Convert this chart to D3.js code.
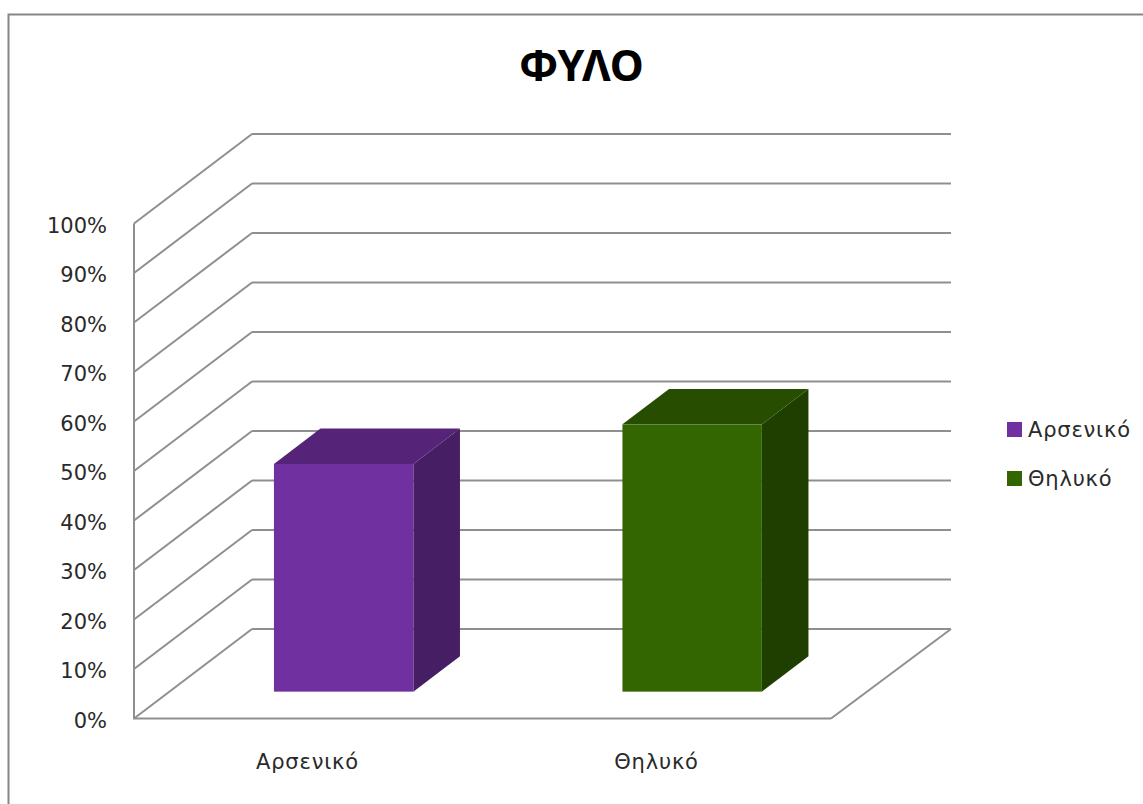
<!DOCTYPE html>
<html><head><meta charset="utf-8">
<script src="https://cdn.jsdelivr.net/npm/d3@7"></script>
<style>html,body{margin:0;padding:0;background:#fff}svg{display:block}text{font-family:"DejaVu Sans",sans-serif;fill:#2a2a2a}</style>
</head><body><div id="c"></div>
<script>
const titleText = "ΦΥΛΟ";
const categories = ["Αρσενικό", "Θηλυκό"];
const values = [46, 54];
const barColors = ["#7030a0", "#336600"];
const topColors = ["#552479", "#264d00"];
const sideColors = ["#451e63", "#1f3f00"];
const ticks = [0,10,20,30,40,50,60,70,80,90,100];

const W = 1143, H = 804;
const svg = d3.select("#c").append("svg").attr("width",W).attr("height",H);
const y = d3.scaleLinear().domain([0,100]).range([718.5,223.5]);
const x = d3.scaleBand().domain(categories).range([134,831]).paddingInner(0.6).paddingOuter(0.3);
const dx = 118, dy = -89.5;
const grid = "#8f8f8f";
const frontT = 0.3, depthT = 0.395;

// outer frame
svg.append("path").attr("d","M8.5,804V14.5H1143").attr("fill","none").attr("stroke","#868686").attr("stroke-width",2);

// title
svg.append("text").attr("x",581.5).attr("y",81).attr("text-anchor","middle")
  .attr("font-size",43).attr("font-weight","bold").style("font-family",'"Noto Sans",sans-serif').style("fill","#000").text(titleText);

// walls
const line = (a,b,c,d,w=2)=>svg.append("line").attr("x1",a).attr("y1",b).attr("x2",c).attr("y2",d)
  .attr("stroke",grid).attr("stroke-width",w);
ticks.forEach(t=>{
  const yy=y(t);
  line(134,yy,134+dx,yy+dy);
  line(134+dx,yy+dy,951,yy+dy);
});
line(134,y(0),134,y(100));
line(133,y(0),831,y(0));
line(831,y(0),951,y(0)+dy);

// tick labels
svg.append("g").selectAll("text").data(ticks).join("text")
  .attr("x",107).attr("y",t=>y(t)+9).attr("text-anchor","end").attr("font-size",21)
  .text(t=>t+"%");

// bars
categories.forEach((c,i)=>{
  const x0 = x(c)+dx*frontT, w = x.bandwidth();
  const yb = y(0)+dy*frontT, yt = yb-(y(0)-y(values[i]));
  const ox = dx*depthT, oy = dy*depthT;
  const g = svg.append("g");
  g.append("path").attr("fill",sideColors[i])
    .attr("d",d3.line()([[x0+w,yt],[x0+w+ox,yt+oy],[x0+w+ox,yb+oy],[x0+w,yb]]));
  g.append("path").attr("fill",topColors[i])
    .attr("d",d3.line()([[x0,yt],[x0+ox,yt+oy],[x0+w+ox,yt+oy],[x0+w,yt]]));
  g.append("rect").attr("x",x0).attr("y",yt).attr("width",w).attr("height",yb-yt).attr("fill",barColors[i]);
});

// category labels
const labelX = [307.5, 656.5];
svg.append("g").selectAll("text").data(categories).join("text")
  .attr("x",(d,i)=>labelX[i]).attr("y",769).attr("text-anchor","middle").attr("font-size",21).attr("letter-spacing",0.8).text(d=>d);

// legend
const leg = svg.append("g").selectAll("g").data(categories).join("g")
  .attr("transform",(d,i)=>`translate(1007,${422+i*49})`);
leg.append("rect").attr("width",15).attr("height",15).attr("fill",(d,i)=>barColors[i]);
leg.append("text").attr("x",21).attr("y",14.5).attr("font-size",21).attr("letter-spacing",0.8).text(d=>d);
</script></body></html>
